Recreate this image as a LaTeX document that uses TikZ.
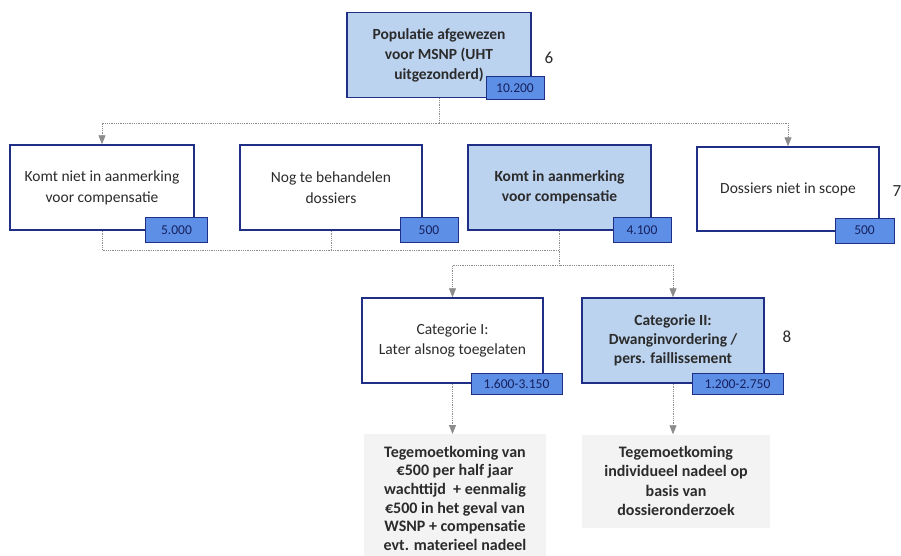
\documentclass[tikz,border=0pt]{standalone}
\usepackage{fontspec}
\setmainfont{Carlito}
\usetikzlibrary{arrows.meta}
\definecolor{navy}{HTML}{1F2F86}
\definecolor{lightblue}{HTML}{BCD3F0}
\definecolor{badgeblue}{HTML}{5E8FE6}
\definecolor{greyfill}{HTML}{F3F3F3}
\definecolor{linegrey}{HTML}{8C8C8C}
\definecolor{txt}{HTML}{2B2B2B}
\begin{document}
\begin{tikzpicture}[x=1pt,y=-1pt,
  box/.style={draw=navy, line width=1.5pt, fill=white, align=center, inner sep=0pt,
    text=txt, font=\fontsize{15.5}{21}\selectfont},
  hlbox/.style={box, fill=lightblue, font=\fontsize{15.5}{20}\selectfont\bfseries},
  badge/.style={draw=navy, line width=1pt, fill=badgeblue, inner sep=0pt,
    text=navy!70!black, font=\fontsize{13.5}{14}\selectfont},
  greybox/.style={fill=greyfill, align=center, inner sep=0pt, text=txt,
    font=\fontsize{16}{18.6}\selectfont\bfseries},
  conn/.style={draw=linegrey, line width=0.8pt, densely dotted},
  arr/.style={conn, -{Triangle[length=9pt,width=7pt,fill=linegrey]}},
  numlab/.style={font=\fontsize{17}{18}\selectfont, text=txt}
]
\useasboundingbox (0,0) rectangle (901,555);
\fill[white] (0,0) rectangle (901,555);

% top
\node[hlbox, minimum width=184pt, minimum height=85pt] (top) at (439,55)
  {Populatie afgewezen\\voor MSNP (UHT\\uitgezonderd)};
\node[badge, minimum width=58pt, minimum height=23pt] (btop) at (515,88) {10.200};
\node[numlab] (n6) at (549,58) {6};

% row 2
\node[box, minimum width=184pt, minimum height=85pt] (b1) at (102,187.5)
  {Komt niet in aanmerking\\voor compensatie};
\node[badge, minimum width=62pt, minimum height=25pt] (bb1) at (176.5,230) {5.000};
\node[box, minimum width=182pt, minimum height=85pt] (b2) at (331,187.5)
  {Nog te behandelen\\dossiers};
\node[badge, minimum width=58pt, minimum height=25pt] (bb2) at (429,230) {500};
\node[hlbox, minimum width=183pt, minimum height=85pt] (b3) at (559.5,187.5)
  {Komt in aanmerking\\voor compensatie};
\node[badge, minimum width=58pt, minimum height=25pt] (bb3) at (642,230) {4.100};
\node[box, minimum width=182pt, minimum height=84pt] (b4) at (788,189)
  {Dossiers niet in scope};
\node[badge, minimum width=59pt, minimum height=25pt] (bb4) at (864.5,230.5) {500};
\node[numlab] (n7) at (897,191) {7};

% row 3
\node[box, minimum width=181pt, minimum height=85pt, font=\fontsize{15.5}{20}\selectfont] (c1) at (452.5,340.5)
  {Categorie I:\\Later alsnog toegelaten};
\node[badge, minimum width=91pt, minimum height=21pt] (bc1) at (516.5,384) {1.600-3.150};
\node[hlbox, minimum width=182pt, minimum height=85pt, font=\fontsize{15.5}{19}\selectfont\bfseries] (c2) at (673,340.5)
  {Categorie II:\\Dwanginvordering /\\pers. faillissement};
\node[badge, minimum width=91pt, minimum height=21pt] (bc2) at (737.5,384) {1.200-2.750};
\node[numlab] (n8) at (787,337) {8};

% grey boxes
\node[greybox, minimum width=182pt, minimum height=128pt, anchor=north] (g1) at (455,434)
  {Tegemoetkoming van\\€500 per half jaar\\wachttijd\ \ + eenmalig\\€500 in het geval van\\WSNP + compensatie\\evt. materieel nadeel};
\node[greybox, minimum width=188pt, minimum height=93pt, font=\fontsize{16}{19.5}\selectfont\bfseries] (g2) at (676,481)
  {Tegemoetkoming\\individueel nadeel op\\basis van\\dossieronderzoek};

% connectors
\coordinate (j1) at (top.south |- 0,123);
\draw[conn] (top.south) -- (j1);
\draw[arr] (j1) -| (b1.north);
\draw[arr] (j1) -| (b4.north);

\coordinate (j2) at (b3.south |- 0,250);
\draw[conn] (b1.south) |- (j2);
\draw[conn] (b2.south) -- (b2.south |- j2);
\coordinate (j3) at (b3.south |- 0,265);
\draw[conn] (b3.south) -- (j3);
\draw[arr] (j3) -| (c1.north);
\draw[arr] (j3) -| (c2.north);

\draw[arr] (c1.south) -- (c1.south |- g1.north);
\draw[arr] (c2.south) -- (c2.south |- g2.north);
\end{tikzpicture}
\end{document}
